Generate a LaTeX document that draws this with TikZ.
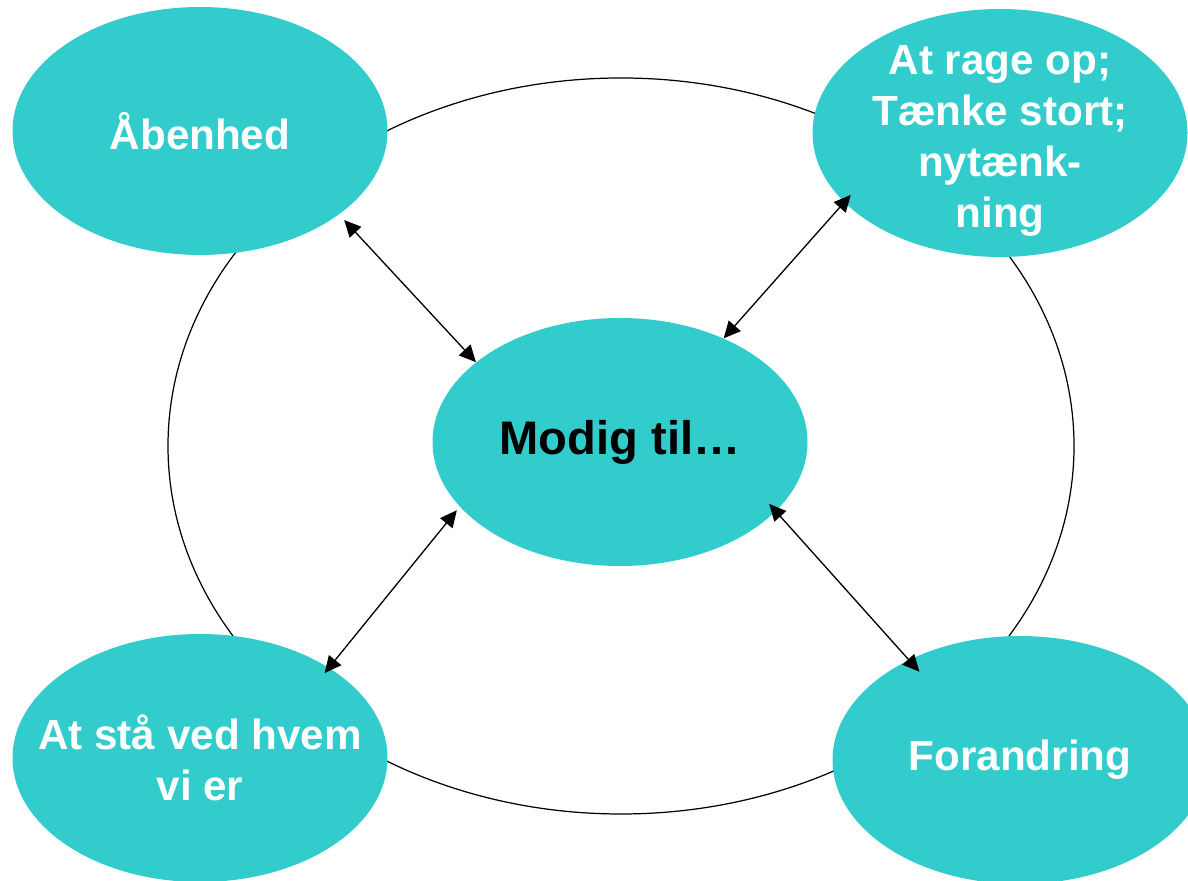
\documentclass[tikz,border=0pt]{standalone}
\usepackage{fontspec}
\setmainfont{Liberation Sans}
\usetikzlibrary{arrows.meta,positioning,shapes.geometric}
\definecolor{teal}{HTML}{33CCCC}

\begin{document}
\begin{tikzpicture}[>={Triangle[length=9.5pt,width=9pt]},
    bubble/.style={ellipse,fill=teal,minimum width=7.5cm,minimum height=4.96cm,
        inner xsep=-1.2cm,inner ysep=-0.8cm,align=center,text=white,
        font=\fontsize{24}{29}\selectfont\bfseries},
    link/.style={<->,line width=0.75pt}]
    \clip (0,0) rectangle (23.76,17.62);

    % Outer ring
    \draw[line width=0.7pt] (12.42,8.70) ellipse (9.06cm and 7.36cm);

    % Bubbles
    \node[bubble] (aaben) at (4.0,15.0) {Åbenhed};
    \node[bubble] (rage) at (20.0,14.96) {\raisebox{-0.16cm}[\height][\depth]{%
        \begin{tabular}{@{}c@{}}At rage op;\\Tænke stort;\\nytænk-\\ning\end{tabular}}};
    \node[bubble,text=black,font=\fontsize{26.8}{32}\selectfont\bfseries] (modig) at (12.4,8.78) {Modig til…};
    \node[bubble] (staa) at (4.0,2.46) {At stå ved hvem\\vi er};
    \node[bubble] (foran) at (20.4,2.42) {Forandring};

    % Links to the middle
    \draw[link,shorten <=0.15cm] (aaben.-31.5) -- (modig.151);
    \draw[link,shorten <=-0.2cm] (rage.-156) -- (modig.45);
    \draw[link,shorten <=0.09cm,shorten >=-0.14cm] (modig.-158.5) -- (staa.35);
    \draw[link,shorten <=-0.2cm,shorten >=-0.32cm] (modig.-24) -- (foran.138.9);
\end{tikzpicture}
\end{document}
